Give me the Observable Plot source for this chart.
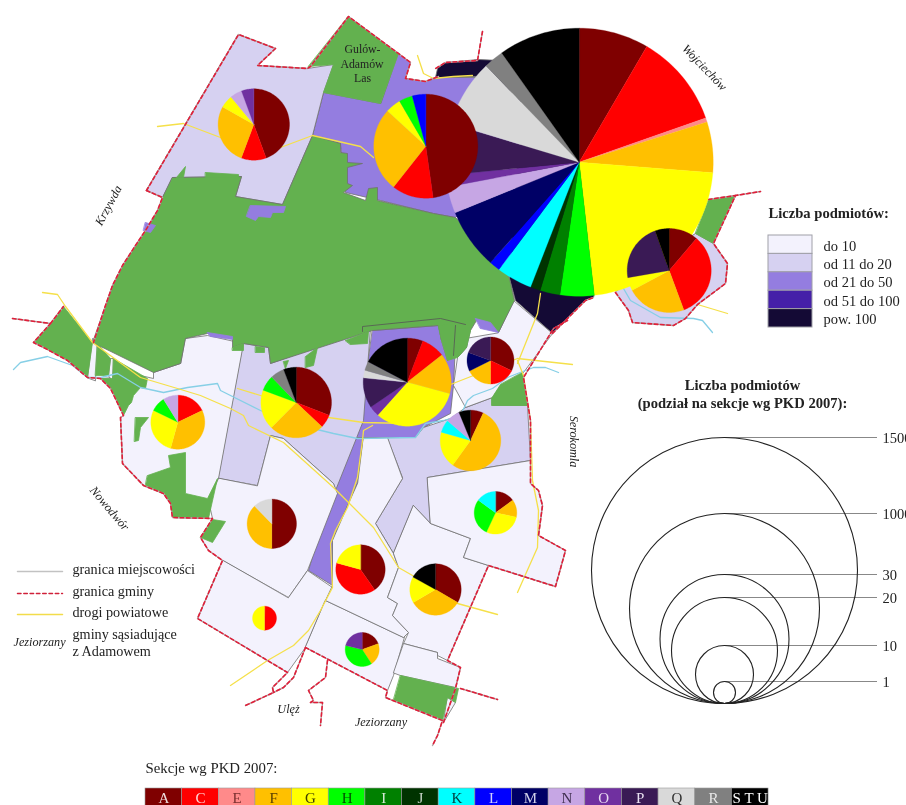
<!DOCTYPE html>
<html><head><meta charset="utf-8">
<style>html,body{margin:0;padding:0;background:#fff;overflow:hidden}svg{display:block;filter:blur(0.4px)}</style>
<script src="https://cdn.jsdelivr.net/npm/d3@7"></script>
<script src="https://cdn.jsdelivr.net/npm/@observablehq/plot@0.6"></script>
</head><body><div id="chart"></div>
<script>
// ---- sections
const sections = ["A","C","E","F","G","H","I","J","K","L","M","N","O","P","Q","R","STU"];
const sectionColors = ["#7f0000","#ff0000","#ff8a8a","#ffc000","#ffff00","#00ff00","#008000","#003300","#00ffff","#0000ff","#000066","#c6a6e4","#7030a0","#3a1a55","#d9d9d9","#808080","#000000"];
const sectionInk = ["#ecdcdc","#ffd6d6","#7a3030","#5a4000","#404000","#005000","#d8ecd8","#c8d4c8","#004040","#d0d0ff","#d0d0e8","#403050","#e8d8f0","#e8e0f0","#303030","#e8e8e8","#ffffff"];

// ---- class legend
const classLabels = ["do 10","od 11 do 20","od 21 do 50","od 51 do 100","pow. 100"];
const classColors = ["#f3f2fd","#d6d1f1","#947de0","#4520a8","#140a35"];
const forest = "#63b14f";

// ---- pies
const pieBigS = ["A","C","E","F","G","H","I","J","K","L","M","N","O","P","Q","R","STU"];
const pieBigV = [8.4,11.2,0.5,6.1,21.9,4.1,2.4,1.2,4.3,1.3,7.3,3.2,1.4,6.2,8.1,2.4,9.8];
const pieGulowS = ["A","C","F","G","H","L"];
const pieGulowV = [47.8,12.9,26.2,4.8,4.2,4.2];
const pieNwS = ["A","C","F","G","N","O"];
const pieNwV = [44.4,11.3,27.5,5.8,5.4,5.6];
const pieEastS = ["A","C","F","G","P","STU"];
const pieEastV = [11.2,33.1,22.8,5.1,22.3,5.4];
const pieAdamowS = ["A","C","F","G","O","P","Q","R","STU"];
const pieAdamowV = [5.8,8.6,14.8,32.4,3.8,11.1,2.8,3.3,17.3];
const pieNeS = ["A","C","F","M","P"];
const pieNeV = [32.2,17.8,17.6,12.9,19.5];
const pieWcS = ["A","C","F","G","H","R","STU"];
const pieWcV = [30.9,6.1,25.4,18.3,7.1,6.4,5.8];
const pieWS = ["C","F","G","H","N"];
const pieWV = [17.9,36.4,27.9,8.9,8.9];
const pieSwS = ["A","F","Q"];
const pieSwV = [50,37.7,12.3];
const pieScS = ["A","C","G"];
const pieScV = [40.3,39,20.7];
const pieTinyS = ["C","G"];
const pieTinyV = [50,50];
const pieSS = ["A","F","H","O"];
const pieSV = [19.4,21.4,38.1,21.1];
const pieSeS = ["A","F","G","STU"];
const pieSeV = [33.4,33.2,16.4,17];
const pieEsS = ["A","F","G","H","K"];
const pieEsV = [14.9,13.4,28.7,28.2,14.9];
const pieEcS = ["A","F","G","K","N","STU"];
const pieEcV = [6.9,53.1,19.5,6.9,7.5,6.2];

const pieTable = [
 [pieBigS,pieBigV,578.7,161.7,134],
 [pieGulowS,pieGulowV,425.3,145.7,52],
 [pieNwS,pieNwV,253.3,124,35.7],
 [pieEastS,pieEastV,668.7,270,42],
 [pieAdamowS,pieAdamowV,406.7,381.7,44],
 [pieNeS,pieNeV,490,360,23.5],
 [pieWcS,pieWcV,295.7,402,35.3],
 [pieWS,pieWV,177.3,421.7,27],
 [pieSwS,pieSwV,271.3,523.3,24.7],
 [pieScS,pieScV,360,569,24.7],
 [pieTinyS,pieTinyV,264,617.7,12],
 [pieSS,pieSV,361.7,649,17],
 [pieSeS,pieSeV,435,589,25.7],
 [pieEsS,pieEsV,495,512.3,21.3],
 [pieEcS,pieEcV,470,440,30.3]
];

// ---- bubble legend
const bubbleLabels = ["1500","1000","30","20","10","1"];
const bubbleRadii = [133,95,64.5,53,29,11];

// ---- map outlines (map units)
const white = [
 [[185,338],[207,335],[243,343],[218,478],[208,500],[208,518],[172,517],[170,503],[163,493],[143,485],[122,463],[120,417],[123,415],[110,387],[100,378],[140,375],[153,378],[153,372],[180,363]],
 [[257,485],[270,435],[283,438],[333,483],[337,493],[307,570],[288,597],[222,560],[208,550],[200,537],[212,518],[208,500],[218,478]],
 [[222,560],[197,618],[287,672],[305,647],[325,600],[332,587],[307,570],[288,597]],
 [[325,600],[403,637],[405,633],[393,675],[387,690],[305,647]],
 [[363,438],[387,437],[402,478],[375,523],[393,553],[398,567],[387,597],[397,603],[392,615],[408,632],[403,637],[325,600],[332,585],[332,540],[348,503],[357,483]],
 [[413,505],[430,523],[470,538],[463,557],[488,565],[447,660],[437,655],[437,652],[403,643],[408,632],[392,615],[397,603],[387,597],[398,567],[393,553]],
 [[427,477],[530,460],[530,483],[538,490],[542,505],[538,535],[565,550],[555,586],[488,565],[463,557],[470,538],[430,523]],
 [[393,672],[403,643],[437,652],[437,658],[460,667],[455,687],[400,675]],
 [[498,332],[513,300],[552,333],[523,372],[500,385],[492,397],[465,407],[453,385],[457,357],[466,347],[467,338]],
 [[447,697],[455,702],[443,722]],
 [[87,377],[92,338],[97,340],[95,380]],
 [[108,375],[110,358],[113,358],[112,380]]
];
const light = [
 [[238,34],[275,48],[257,65],[307,68],[333,64],[323,92],[312,135],[282,204],[235,196],[241,176],[172,177],[162,197],[146,190]],
 [[243,343],[268,347],[270,363],[370,328],[363,420],[335,490],[333,483],[283,438],[270,435],[257,485],[218,478]],
 [[387,437],[415,437],[423,427],[450,418],[465,407],[492,397],[492,405],[527,405],[530,460],[427,477],[430,523],[413,505],[393,553],[375,523],[402,478]],
 [[615,292],[628,310],[632,322],[673,325],[685,318],[697,304],[725,283],[727,263],[713,243],[695,233],[650,260]]
];
const purple = [
 [[398,53],[410,62],[405,78],[425,81],[438,77],[480,77],[520,100],[520,150],[455,217],[433,213],[380,200],[345,192],[340,143],[312,135],[323,92],[380,103]],
 [[372,330],[438,325],[441,340],[447,360],[455,345],[453,385],[450,413],[423,427],[415,437],[355,437],[365,380]],
 [[355,437],[363,437],[357,483],[348,503],[332,540],[332,585],[308,570],[333,483]]
];
const purpleOverForest = [
 [[207,332],[232,336],[232,339],[210,336]],
 [[250,205],[285,206],[283,212],[272,212],[270,217],[258,216],[255,220],[246,216]],
 [[145,222],[155,225],[150,232],[143,230]],
 [[475,318],[490,322],[498,332],[480,328]]
];
const dark = [
 [[435,77],[437,68],[445,62],[478,59],[500,60],[520,120],[509,278],[515,300],[552,333],[585,300],[593,297],[620,200],[480,76]]
];
const forestMain = [[172,177],[241,176],[235,196],[282,204],[312,135],[340,143],[340,152],[347,153],[347,162],[362,163],[347,167],[347,183],[352,185],[343,192],[365,200],[368,188],[377,187],[377,200],[433,213],[455,217],[505,270],[509,278],[514,300],[498,332],[476,320],[470,330],[466,347],[457,357],[441,340],[438,325],[372,330],[270,363],[268,347],[243,343],[232,347],[232,338],[207,333],[185,338],[180,363],[153,372],[92,342],[105,305],[112,285],[122,265],[135,245],[145,230],[157,210],[162,197]];
const forestPatches = [
 [[348,16],[398,53],[380,103],[323,92],[333,64],[308,66]],
 [[63,306],[92,342],[87,377],[67,360],[45,348],[33,342],[50,323]],
 [[97,343],[110,358],[108,375],[95,375]],
 [[113,358],[147,378],[145,388],[140,387],[133,395],[131,402],[128,405],[123,415],[110,387],[100,378],[112,378]],
 [[147,475],[170,467],[168,455],[185,452],[185,493],[207,498],[217,478],[208,518],[172,517],[170,503],[163,493],[145,485]],
 [[135,417],[148,417],[140,427],[138,440],[134,441]],
 [[212,519],[225,521],[212,542],[200,537]],
 [[708,199],[735,195],[713,243],[695,233]],
 [[400,675],[458,688],[455,702],[447,697],[442,720],[393,700]],
 [[522,372],[527,405],[491,405],[491,398],[500,384]],
 [[438,325],[465,322],[470,330],[466,347],[457,357],[447,360],[441,340]],
 [[283,361],[288,360],[285,368]],
 [[305,356],[317,347],[313,365],[305,367]],
 [[345,340],[368,331],[367,343],[350,344]],
 [[232,347],[243,343],[243,350],[232,350]],
 [[255,346],[264,347],[264,352],[255,352]],
 [[205,172],[238,174],[238,177],[205,177]],
 [[176,177],[185,166],[183,177]]
];
const villageLines = [
 [[362,331],[362,326],[440,318],[465,324]],
 [[455,325],[453,355]]
];

const rivers = [
 [[13,369],[20,362],[47,356],[72,365],[87,377],[100,377],[117,373],[140,387],[163,392],[187,387],[217,383],[220,390],[260,410],[300,425],[333,433],[357,438],[415,437],[425,423],[443,420],[460,415],[467,400],[473,395],[492,388],[507,377],[517,373],[533,367],[545,367],[558,372]],
 [[623,288],[630,300],[660,317],[693,318],[702,320],[712,332]]
];
const roads = [
 [[157,126],[183,123],[220,137],[280,147],[312,135],[360,146],[373,157]],
 [[417,55],[423,73],[433,78],[453,76],[472,75]],
 [[42,292],[57,294],[65,306],[92,342],[140,377],[177,388],[200,395],[230,408],[243,415],[248,425],[283,442],[333,487],[373,527],[398,567],[412,575],[457,603],[497,614]],
 [[237,388],[260,395],[328,417],[363,422],[407,423]],
 [[450,384],[473,375],[517,358],[572,364]],
 [[540,293],[537,313],[517,363]],
 [[372,425],[363,430],[362,440],[357,477],[347,507],[335,530],[330,543],[332,587],[320,610],[308,630],[293,645],[267,660],[230,685]],
 [[517,360],[523,375],[530,420],[532,480],[538,510],[537,547],[517,592]],
 [[697,304],[727,313]]
];
const borders = [
 [[146,190],[238,34],[275,48],[257,65],[307,68],[310,66],[348,16],[398,53],[410,62],[405,78],[425,81],[438,76]],
 [[146,190],[162,197],[157,210],[145,230],[135,245],[122,265],[112,285],[105,305],[93,342]],
 [[12,318],[50,323],[33,342],[45,348],[67,360],[87,377],[100,378],[110,388],[123,415],[120,417],[122,463],[143,485],[163,493],[170,503],[172,517],[212,518],[200,537],[208,550],[222,560],[197,618],[287,672],[272,687],[273,692],[245,705]],
 [[50,323],[63,306]],
 [[305,647],[293,677],[283,687],[273,692]],
 [[305,647],[387,690],[385,697],[442,720],[437,735],[432,745]],
 [[327,660],[325,677],[308,690],[313,700],[310,702],[322,702],[320,725]],
 [[460,688],[497,699]],
 [[443,722],[455,688],[460,667],[447,660],[488,565],[555,586],[565,550],[538,535],[542,505],[538,490],[530,483],[530,420],[523,377],[553,328],[567,320]],
 [[552,333],[585,300],[593,297]],
 [[615,292],[628,310],[632,322],[673,325],[685,318],[697,304],[725,283],[727,263],[713,243],[735,195],[760,191]],
 [[708,199],[735,195]],
 [[482,31],[477,60],[445,62],[435,68]]
];

// ---- key lines
const keyNames = ["granica miejscowości","granica gminy","drogi powiatowe"];
const keyRows = [571,593,614];
const keyX = [17,62];
const keyStroke = ["#c2c2c2","#d0213a","#f2dc4a"];

// ---- helpers
const px = d => d[0], py = d => d[1];
const serif = "Liberation Serif";
const poly = (pts, fill, stroke="#707070") => Plot.line(pts, {x:px, y:py, curve:"linear-closed", fill, stroke, strokeWidth:0.8});
const wedges = [];
pieTable.forEach(([names, values, cx, cy, r]) => {
  const arcs = d3.pie().sort(null).value(d => d)(values);
  arcs.forEach((a, i) => {
    const steps = Math.max(2, Math.ceil((a.endAngle - a.startAngle) / 0.03));
    const pts = [[cx, cy]];
    for (let s = 0; s <= steps; s++) {
      const t = a.startAngle + (a.endAngle - a.startAngle) * s / steps;
      pts.push([cx + r * Math.sin(t), cy - r * Math.cos(t)]);
    }
    wedges.push({pts, color: sectionColors[sections.indexOf(names[i])]});
  });
});
const label = (txt, x, y, o={}) => Plot.text([txt], {x:()=>x, y:()=>y, text:d=>d, fontFamily:serif, fontSize:14.2, fill:"#222", textAnchor:"start", lineAnchor:"middle", ...o});
const place = {fontStyle:"italic",fontSize:12.2,textAnchor:"middle"};

const cellW = 36.65, cellX0 = 145;
const bubbleBottom = 703, bubbleX = 724;
const bubbles = bubbleLabels.map((l,i)=>({l, r:bubbleRadii[i], cy:bubbleBottom-bubbleRadii[i], top:bubbleBottom-2*bubbleRadii[i]}));

const marks = [
  ...dark.map(p=>poly(p,classColors[4])),
  ...purple.map(p=>poly(p,classColors[2])),
  ...light.map(p=>poly(p,classColors[1])),
  ...white.map(p=>poly(p,classColors[0])),
  poly(forestMain,forest),
  ...forestPatches.map(p=>poly(p,forest,forest)),
  ...purpleOverForest.map(p=>poly(p,classColors[2],classColors[2])),
  ...villageLines.map(p=>Plot.line(p,{x:px,y:py,stroke:"#555",strokeWidth:0.8})),
  ...rivers.map(p=>Plot.line(p,{x:px,y:py,stroke:"#86cfe6",strokeWidth:1.3})),
  ...roads.map(p=>Plot.line(p,{x:px,y:py,stroke:"#f5e04a",strokeWidth:1.3})),
  ...borders.map(p=>Plot.line(p,{x:px,y:py,stroke:"#b8a8a8",strokeWidth:1.4})),
  ...borders.map(p=>Plot.line(p,{x:px,y:py,stroke:"#e01f3a",strokeWidth:1.6,strokeDasharray:"3.5,2.8"})),
  ...wedges.map(w=>Plot.line(w.pts,{x:px,y:py,curve:"linear-closed",fill:w.color,stroke:w.color,strokeWidth:0.3})),
  // place labels
  label("Krzywda",108,205,{...place,rotate:-62}),
  label("Wojciechów",704,67,{...place,rotate:46}),
  label("Nowodwór",109,508,{...place,rotate:50}),
  label("Serokomla",573,441,{...place,rotate:90}),
  label("Ulęż",288,709,place),
  label("Jeziorzany",380.5,722,place),
  label("Gulów-",362,49,{textAnchor:"middle",fontSize:11.8}),
  label("Adamów",361.5,64,{textAnchor:"middle",fontSize:11.8}),
  label("Las",362,78,{textAnchor:"middle",fontSize:11.8}),
  // class legend
  label("Liczba podmiotów:",768,213,{fontWeight:"bold",fontSize:14.6}),
  Plot.rect(classLabels,{x1:()=>768,x2:()=>812,y1:(d,i)=>235+i*18.4,y2:(d,i)=>253.4+i*18.4,fill:(d,i)=>classColors[i],stroke:"#a0a0a8",strokeWidth:1}),
  ...classLabels.map((l,i)=>label(l,823,245.5+i*18.4,{fontSize:14.5})),
  // bubble legend
  label("Liczba podmiotów",742,385,{fontWeight:"bold",textAnchor:"middle",fontSize:14.6}),
  label("(podział na sekcje wg PKD 2007):",742,403,{fontWeight:"bold",textAnchor:"middle",fontSize:14.6}),
  Plot.ruleY(bubbles,{y:"top",x1:()=>bubbleX,x2:()=>877,stroke:"#888",strokeWidth:1}),
  Plot.dot(bubbles,{x:()=>bubbleX,y:"cy",r:"r",stroke:"#222",strokeWidth:1.1,fill:"none"}),
  ...bubbles.map(b=>label(b.l,882,b.top+1,{fontSize:14.5})),
  // line key
  ...keyRows.map((y,i)=>Plot.line([[keyX[0],y],[keyX[1],y]],{x:px,y:py,stroke:keyStroke[i],strokeWidth:1.5,strokeDasharray:i===1?"3.5,2.8":null})),
  ...keyNames.map((l,i)=>label(l,72,569+i*21.5)),
  label("Jeziorzany",13,642,{fontStyle:"italic",fontSize:12.2}),
  label("gminy sąsiadujące",72,634),
  label("z Adamowem",72,651),
  // section strip
  label("Sekcje wg PKD 2007:",145,768,{fontSize:14.8}),
  Plot.rect(sections,{x1:(d,i)=>cellX0+i*cellW,x2:(d,i)=>cellX0+(i+1)*cellW,y1:()=>788,y2:()=>807,fill:(d,i)=>sectionColors[i],stroke:"#999",strokeWidth:0.6}),
  Plot.text(sections,{x:(d,i)=>cellX0+(i+0.5)*cellW,y:()=>798,text:d=>d==="STU"?"S T U":d,fontFamily:serif,fontSize:15,fill:(d,i)=>sectionInk[i]})
];

const chart = Plot.plot({
  width:906,height:805,margin:0,
  x:{domain:[0,906],axis:null},
  y:{domain:[805,0],axis:null},
  r:{type:"identity"},
  color:{type:"identity"},
  style:{background:"#fff",overflow:"hidden"},
  marks
});
document.getElementById("chart").appendChild(chart);
</script></body></html>
